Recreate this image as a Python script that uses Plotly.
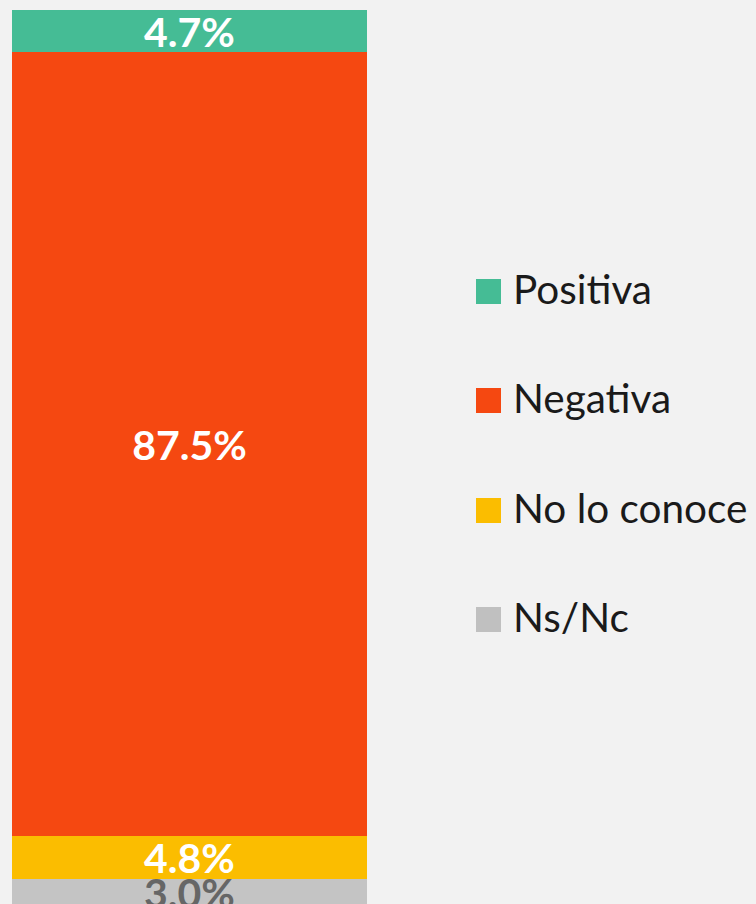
import plotly.graph_objects as go

categories = ["Positiva", "Negativa", "No lo conoce", "Ns/Nc"]
values = [4.7, 87.5, 4.8, 3.0]
labels = ["4.7%", "87.5%", "4.8%", "3.0%"]
colors = ["#45bc95", "#f54811", "#fbbd00", "#c4c4c4"]
legend_colors = ["#45bc95", "#f54811", "#fbbd00", "#c0c0c0"]
text_colors = ["#ffffff", "#ffffff", "#ffffff", "#666666"]

FONT = "Lato"
fig = go.Figure()
# stack bottom-up: Ns/Nc at the bottom, Positiva on top
for cat, v, lab, c, tc in reversed(list(zip(categories, values, labels, colors, text_colors))):
    fig.add_trace(go.Bar(
        x=[0], y=[v], name=cat, width=1,
        marker=dict(color=c, line=dict(width=0)),
        text=[lab], textposition="inside", insidetextanchor="middle",
        textangle=0, constraintext="none",
        textfont=dict(family=FONT, size=41, color=tc, weight="bold"),
        showlegend=False, hoverinfo="skip",
    ))

# legend drawn as paper-positioned squares and labels
W, H = 756, 904
TOP = 10
PH = H - TOP  # plot area height (paper coords span the plot area)


def py(pix):
    return 1 - (pix - TOP) / PH


centers = [291.5, 400.5, 510.5, 619.5]
for cat, c, cy in zip(categories, legend_colors, centers):
    fig.add_shape(type="rect", xref="paper", yref="paper",
                  x0=476 / W, x1=501 / W, y0=py(cy + 12.5), y1=py(cy - 12.5),
                  fillcolor=c, line=dict(width=0))
    fig.add_annotation(xref="paper", yref="paper", x=511 / W, y=py(cy - 3),
                       xanchor="left", yanchor="middle", showarrow=False,
                       text=cat, font=dict(family=FONT, size=40.5, color="#1a1a1a"))

fig.update_layout(
    width=W, height=H, barmode="stack",
    margin=dict(l=0, r=0, t=TOP, b=0),
    paper_bgcolor="#f2f2f2", plot_bgcolor="#f2f2f2",
    xaxis=dict(domain=[12 / W, 367 / W], range=[-0.5, 0.5], visible=False, fixedrange=True),
    yaxis=dict(range=[0.21, 100], visible=False, fixedrange=True),
    showlegend=False,
)
fig.write_html(
    "out.html",
    config={"displayModeBar": False},
    post_script="document.body.style.margin='0';document.body.style.background='#f2f2f2';"
                "document.documentElement.style.overflow='hidden';",
)
